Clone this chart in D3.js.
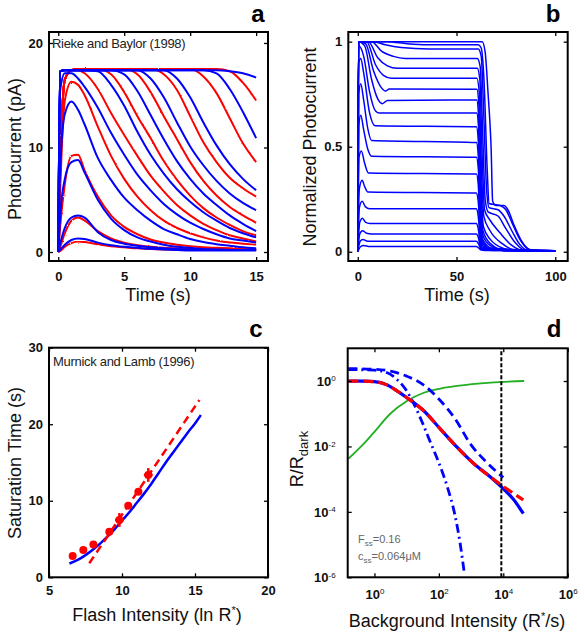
<!DOCTYPE html>
<html><head><meta charset="utf-8">
<script src="https://cdn.jsdelivr.net/npm/d3@7"></script>
<style>body{margin:0;background:#fff}svg{display:block}</style>
</head><body>
<script>
// ---------------- Panel a data ----------------
const timeA=[0,0.15,0.5,1,1.5,2,3,4,5,6,7,8,9,10,11,12,13,14,15];
const modelA=[
 [0,17.3,17.4,17.4,17.4,17.4,17.4,17.4,17.4,17.4,17.4,17.4,17.4,17.4,17.4,17.4,17.3,17.1,16.7],
 [0,17.3,17.4,17.4,17.4,17.4,17.4,17.4,17.4,17.4,17.4,17.4,17.4,17.4,17.4,17.1,15.6,13.4,10.9],
 [0,17.3,17.4,17.4,17.4,17.4,17.4,17.4,17.4,17.4,17.4,17.4,16.6,14.8,12.4,10.2,8.4,7.0,5.9],
 [0,17.3,17.4,17.4,17.4,17.4,17.4,17.4,17.4,17.4,16.6,14.8,12.4,10.1,8.3,6.8,5.6,4.7,4.0],
 [0,17.3,17.4,17.4,17.4,17.4,17.4,17.4,17.0,15.4,13.1,10.8,8.7,7.0,5.6,4.5,3.5,2.7,2.0],
 [0,17.3,17.4,17.4,17.4,17.4,17.3,16.0,14.0,11.5,9.3,7.5,6.0,4.8,3.8,3.0,2.3,1.8,1.4],
 [0,15.5,17.1,17.1,16.6,15.8,13.8,11.4,9.3,7.4,5.9,4.6,3.6,2.8,2.2,1.7,1.3,1.1,0.9],
 [0,8,13.2,14.4,13.6,12.2,9.0,6.9,5.2,4.0,3.0,2.2,1.7,1.25,0.95,0.75,0.6,0.45,0.35],
 [0,3.5,7.0,8.6,8.8,7.6,5.0,3.2,2.1,1.4,1.0,0.7,0.5,0.4,0.3,0.25,0.2,0.2,0.2],
 [0,0.8,2.3,3.3,3.5,3.3,1.9,1.15,0.8,0.6,0.45,0.35,0.3,0.25,0.2,0.2,0.2,0.2,0.2],
 [0,0.2,0.7,1.15,1.3,1.25,0.9,0.65,0.5,0.4,0.3,0.25,0.2,0.15,0.15,0.15,0.15,0.15,0.15]
];
const dataA=[
 [0,8,16.5,17.4,17.5,17.5,17.5,17.5,17.5,17.5,17.5,17.5,17.5,17.5,17.5,17.5,17.3,16.2,14.5],
 [0,8,16.5,17.4,17.5,17.5,17.5,17.5,17.5,17.5,17.5,17.5,17.5,17.5,16.8,15.2,12.8,10.4,8.6],
 [0,8,16.5,17.4,17.5,17.5,17.5,17.5,17.5,17.5,17.5,17.0,15.5,13.0,10.5,8.6,7.1,6.1,5.3],
 [0,8,16.5,17.4,17.5,17.5,17.5,17.5,17.5,17.0,15.3,13.0,10.8,8.6,6.8,5.4,4.3,3.5,2.8],
 [0,8,16.5,17.4,17.5,17.5,17.5,17.0,15.3,13.0,10.9,8.7,6.9,5.4,4.2,3.3,2.6,2.0,1.6],
 [0,8,16.5,17.4,17.4,17.1,15.6,13.3,11.2,9.2,7.3,5.8,4.5,3.5,2.7,2.1,1.6,1.3,1.0],
 [0,6,14.5,16.3,16.0,15.0,12.0,9.2,7.0,5.3,4.0,3.0,2.3,1.8,1.4,1.1,0.9,0.8,0.7],
 [0,2.5,6.5,9.2,9.3,7.8,5.3,3.5,2.4,1.7,1.2,0.9,0.7,0.55,0.45,0.4,0.35,0.3,0.3],
 [0,0.5,1.8,3.0,3.3,3.0,2.0,1.3,0.9,0.65,0.5,0.4,0.35,0.3,0.3,0.3,0.3,0.3,0.3],
 [0,0.1,0.5,0.85,1.0,0.95,0.75,0.55,0.45,0.35,0.3,0.25,0.2,0.2,0.2,0.2,0.2,0.2,0.2]
];
const ticksAx=[0,5,10,15], ticksAy=[0,10,20];

// ---------------- Panel b data ----------------
const normCurves=[
 [[0,0],[0.4,1],[60,1],[63,1],[64.5,0.95],[66,0.75],[67,0.6],[67.5,0.5],[68.3,0.24],[70,0.22],[74,0.22],[76,0.2],[79,0.13],[83,0.05],[87,0.01],[90,0.005],[100,0.005]],
 [[0,0],[0.4,1],[15,1],[25,0.99],[35,0.985],[61,0.985],[62.5,0.97],[64,0.8],[65.5,0.4],[66.5,0.23],[72,0.22],[75,0.2],[78,0.14],[82,0.06],[86,0.015],[90,0.005],[100,0.005]],
 [[0,0],[0.4,1],[8,1],[14,0.985],[22,0.972],[36,0.965],[61,0.965],[62.5,0.93],[64,0.6],[65.2,0.3],[66.5,0.21],[71,0.2],[74,0.17],[78,0.1],[82,0.035],[87,0.005],[100,0.005]],
 [[0,0],[0.4,1],[7,1],[12,0.955],[18,0.93],[24,0.92],[60.5,0.92],[62,0.88],[63.3,0.55],[64.5,0.25],[66,0.19],[71,0.17],[75,0.11],[80,0.04],[85,0.005],[100,0.005]],
 [[0,0],[0.4,1],[5.4,1],[10,0.925],[15,0.885],[20,0.873],[60.5,0.873],[61.8,0.82],[63,0.45],[64.2,0.2],[67,0.15],[72,0.09],[78,0.03],[84,0.005],[100,0.005]],
 [[0,0],[0.4,1],[4.5,1],[9,0.89],[13,0.84],[17,0.826],[60.3,0.826],[61.5,0.76],[62.6,0.4],[63.8,0.17],[67,0.1],[73,0.04],[80,0.008],[100,0.005]],
 [[0,0],[0.4,1],[4,0.99],[8,0.86],[12,0.78],[14,0.765],[16,0.775],[60.3,0.773],[61.3,0.7],[62.4,0.33],[63.6,0.12],[67,0.06],[74,0.015],[80,0.005],[100,0.005]],
 [[0,0],[0.4,1],[3.5,0.98],[7,0.82],[10,0.73],[12.5,0.705],[15,0.72],[60.2,0.722],[61.2,0.64],[62.2,0.3],[63.4,0.1],[67,0.04],[75,0.005],[100,0.005]],
 [[0,0],[0.4,0.98],[3,0.93],[6,0.76],[9,0.67],[11,0.66],[60.2,0.66],[61.1,0.6],[62.1,0.27],[63.3,0.08],[67,0.03],[74,0.005],[100,0.005]],
 [[0,0],[0.5,0.9],[1.5,0.92],[3,0.85],[6,0.66],[8.8,0.6],[60.1,0.595],[61,0.53],[62,0.23],[63.2,0.06],[68,0.015],[75,0.005],[100,0.005]],
 [[0,0],[0.5,0.75],[1.5,0.8],[3,0.72],[5,0.59],[7,0.53],[60.1,0.52],[61,0.46],[62,0.19],[63.2,0.05],[68,0.01],[100,0.005]],
 [[0,0],[0.5,0.6],[1.5,0.65],[3,0.58],[5,0.49],[7,0.455],[60.1,0.45],[61,0.4],[62,0.15],[63.2,0.04],[68,0.008],[100,0.005]],
 [[0,0],[0.6,0.45],[1.8,0.48],[3.5,0.42],[5.4,0.375],[60.1,0.37],[61,0.32],[62,0.12],[63.2,0.03],[68,0.006],[100,0.005]],
 [[0,0],[0.8,0.3],[2.2,0.34],[3.5,0.31],[5,0.285],[60,0.28],[61,0.24],[62,0.09],[63.2,0.02],[100,0.005]],
 [[0,0],[0.8,0.21],[2.2,0.24],[3.8,0.215],[6,0.205],[60,0.205],[61,0.17],[62,0.06],[63.2,0.015],[100,0.005]],
 [[0,0],[1,0.14],[2.4,0.16],[4,0.14],[6,0.135],[60,0.135],[61,0.11],[62,0.04],[63.2,0.01],[100,0.005]],
 [[0,0],[1,0.085],[2.4,0.1],[4.5,0.088],[7,0.085],[60,0.085],[61,0.07],[62,0.025],[63.5,0.008],[100,0.005]],
 [[0,0],[1.2,0.05],[2.6,0.058],[5,0.05],[60,0.05],[61,0.04],[62.2,0.015],[64,0.006],[100,0.005]],
 [[0,0],[1.5,0.025],[3,0.03],[6,0.025],[60,0.025],[61,0.02],[62.5,0.008],[100,0.005]]
];
const ticksBx=[0,50,100], ticksBy=[0,0.5,1];

// ---------------- Panel c data ----------------
const flashIntensity=[6.62,7.35,8.04,9.13,9.82,10.43,11.12,11.8];
const satTime=[2.78,3.57,4.3,5.96,7.49,9.36,11.19,13.37];
const satErrX=[0,0,0,0,0.3,0,0,0.3];
const satErrY=[0,0,0,0,0.9,0,0,0.9];
const fitLineX=[7.76,15.3], fitLineY=[1.83,23.17];
const modelSatX=[6.4,7,7.5,8,8.5,9,9.5,10,10.5,11,11.5,12,12.5,13,13.5,14,14.5,15,15.4];
const modelSatY=[1.8,2.3,2.9,3.6,4.4,5.3,6.3,7.4,8.5,9.7,10.9,12.2,13.6,15.0,16.3,17.6,18.9,20.1,21.2];
const ticksCx=[5,10,15,20], ticksCy=[0,10,20,30];

// ---------------- Panel d data ----------------
const greenX=[0.155,0.575,1,3.09,10.2,33.9,112,372,4070,44700];
const greenY=[0.0042,0.0151,0.028,0.1,0.245,0.437,0.589,0.708,0.891,1.0];
const redX=[0.155,0.4,1,2.45,5,10.2,33.9,112,372,1230,4070,10700,41700];
const redY=[1.0,0.99,0.955,0.76,0.5,0.309,0.123,0.0339,0.00933,0.00295,0.00115,0.000575,0.000234];
const blueX=[0.155,0.4,1,2.45,5,10.2,33.9,112,372,1230,4070,10700,20000,41700];
const blueY=[1.0,0.99,0.955,0.76,0.5,0.309,0.123,0.0339,0.00933,0.00295,0.00115,0.00048,0.00025,0.0000891];
const dashedX=[0.155,1,3.16,10,31.6,100,316,1000,3160,10000];
const dashedY=[2.4,2.29,2.0,1.41,0.794,0.282,0.0708,0.0112,0.00316,0.00112];
const dashDotX=[0.155,1,2.51,5.01,10,17.8,31.6,56.2,100,178,316,447,603];
const dashDotY=[2.24,2.14,1.78,1.12,0.501,0.178,0.0501,0.0126,0.00316,0.000631,0.0000794,0.0000126,0.00000158];
const darkLimit=8700;
const ticksDx=[1,100,1e4,1e6], ticksDy=[1e-6,1e-4,1e-2,1];

// ---------------- drawing ----------------
const FONT='"Liberation Sans", Arial, Helvetica, sans-serif';
const BLUE='#0000ff', RED='#ff0000', GREEN='#22b022';
const svg=d3.select('body').append('svg').attr('width',585).attr('height',639).style('background','#fff');
const defs=svg.append('defs');
const f=defs.append('filter').attr('id','rough').attr('x','-5%').attr('y','-5%').attr('width','110%').attr('height','110%');
f.append('feTurbulence').attr('type','fractalNoise').attr('baseFrequency','0.6').attr('numOctaves',1).attr('seed',4).attr('result','n');
f.append('feDisplacementMap').attr('in','SourceGraphic').attr('in2','n').attr('scale',2.2);

function drawAxes(sx,sy,xt,yt,o){
  const [x0,x1]=sx.range(), [y0,y1]=sy.range();
  const g=svg.append('g');
  const lab=g.append('g');
  lab.append('g').attr('transform',`translate(0,${y0})`).call(d3.axisBottom(sx).tickValues(xt).tickFormat(o.xf).tickSizeInner(-4).tickSizeOuter(0).tickPadding(o.px));
  g.append('g').attr('transform',`translate(0,${y1})`).call(d3.axisTop(sx).tickValues(xt).tickFormat(()=>'').tickSizeInner(-4).tickSizeOuter(0));
  lab.append('g').attr('transform',`translate(${x0},0)`).call(d3.axisLeft(sy).tickValues(yt).tickFormat(o.yf).tickSizeInner(-4).tickSizeOuter(0).tickPadding(o.py));
  g.append('g').attr('transform',`translate(${x1},0)`).call(d3.axisRight(sy).tickValues(yt).tickFormat(()=>'').tickSizeInner(-4).tickSizeOuter(0));
  g.selectAll('.domain').remove();
  g.selectAll('.tick line').attr('stroke','#000').attr('stroke-width',1.3);
  g.selectAll('text').attr('font-family',FONT).attr('font-size',13).attr('font-weight','bold').attr('fill','#111');
  g.append('rect').attr('x',x0).attr('y',y1).attr('width',x1-x0).attr('height',y0-y1).attr('fill','none').attr('stroke','#000').attr('stroke-width',2);
  return lab;
}
function label(txt,x,y,rot,size){
  const t=svg.append('text').attr('font-family',FONT).attr('font-size',size||18).attr('fill','#111').attr('text-anchor','middle')
    .attr('transform',`translate(${x},${y})${rot?' rotate(-90)':''}`);
  if(typeof txt==='string') t.text(txt); else txt(t);
  return t;
}
function letter(ch,x,y){svg.append('text').attr('x',x).attr('y',y).attr('font-family',FONT).attr('font-size',24).attr('font-weight','bold').attr('text-anchor','middle').text(ch);}

// Panel a
const xa=d3.scaleLinear().domain([-0.7,15.9]).range([49,268]);
const ya=d3.scaleLinear().domain([-0.86,21.05]).range([261,32]);
const lineA=d3.line().x((d,i)=>xa(timeA[i])).y(d=>ya(d)).curve(d3.curveMonotoneX);
const ga=svg.append('g');
ga.selectAll('path.r').data(dataA).join('path').attr('d',lineA).attr('fill','none').attr('stroke',RED).attr('stroke-width',2).attr('filter','url(#rough)');
ga.selectAll('path.b').data(modelA).join('path').attr('d',lineA).attr('fill','none').attr('stroke',BLUE).attr('stroke-width',2);
drawAxes(xa,ya,ticksAx,ticksAy,{xf:d3.format('d'),yf:d3.format('d'),px:11,py:6});
svg.append('text').attr('x',52).attr('y',48).attr('font-family',FONT).attr('font-size',13).attr('fill','#222').attr('letter-spacing','-0.3').text('Rieke and Baylor (1998)');
label('Photocurrent (pA)',21,149,true);
label('Time (s)',158,301);
letter('a',258,22);

// Panel b
const xb=d3.scaleLinear().domain([-4.8,106.3]).range([348.3,567.7]);
const yb=d3.scaleLinear().domain([-0.044,1.046]).range([261,32]);
const lineB=d3.line().x(d=>xb(d[0])).y(d=>yb(d[1])).curve(d3.curveMonotoneX);
svg.append('g').selectAll('path').data(normCurves).join('path').attr('d',lineB).attr('fill','none').attr('stroke',BLUE).attr('stroke-width',1.5);
drawAxes(xb,yb,ticksBx,ticksBy,{xf:d3.format('d'),yf:d=>d===0.5?'0.5':d3.format('d')(d),px:11,py:6});
label('Normalized Photocurrent',316,147,true);
label('Time (s)',457,301);
letter('b',553,22);

// Panel c
const xc=d3.scaleLinear().domain([5,20]).range([49,268]);
const yc=d3.scaleLinear().domain([0,30]).range([577.3,347.7]);
const gc=svg.append('g');
gc.append('path').datum(modelSatX.map((x,i)=>[x,modelSatY[i]]))
  .attr('d',d3.line().x(d=>xc(d[0])).y(d=>yc(d[1])).curve(d3.curveMonotoneX)).attr('fill','none').attr('stroke',BLUE).attr('stroke-width',2.5);
gc.append('path').datum(fitLineX.map((x,i)=>[x,fitLineY[i]]))
  .attr('d',d3.line().x(d=>xc(d[0])).y(d=>yc(d[1]))).attr('fill','none').attr('stroke',RED).attr('stroke-width',2.5).attr('stroke-dasharray','8,5');
flashIntensity.forEach((x,i)=>{
  if(satErrY[i]>0){
    gc.append('line').attr('x1',xc(x)).attr('x2',xc(x)).attr('y1',yc(satTime[i]-satErrY[i])).attr('y2',yc(satTime[i]+satErrY[i])).attr('stroke',RED).attr('stroke-width',2.5);
    gc.append('line').attr('x1',xc(x-satErrX[i])).attr('x2',xc(x+satErrX[i])).attr('y1',yc(satTime[i])).attr('y2',yc(satTime[i])).attr('stroke',RED).attr('stroke-width',2.5);
  }
});
gc.selectAll('circle').data(flashIntensity).join('circle').attr('cx',d=>xc(d)).attr('cy',(d,i)=>yc(satTime[i])).attr('r',4).attr('fill',RED);
drawAxes(xc,yc,ticksCx,ticksCy,{xf:d3.format('d'),yf:d3.format('d'),px:8,py:6});
svg.append('text').attr('x',53).attr('y',366).attr('font-family',FONT).attr('font-size',13).attr('fill','#222').attr('letter-spacing','-0.3').text('Murnick and Lamb (1996)');
label('Saturation Time (s)',21,463,true);
label(t=>{t.append('tspan').text('Flash Intensity (ln R');t.append('tspan').attr('dy',-7).attr('font-size',11).text('*');t.append('tspan').attr('dy',7).text(')');},157,621);
letter('c',256,337);

// Panel d
const xd=d3.scaleLog().domain([Math.pow(10,-0.83),1e6]).range([347.7,567.7]);
const yd=d3.scaleLog().domain([1e-6,10]).range([577.3,348.3]);
const lineD=(X,Y)=>d3.line().x(d=>xd(d[0])).y(d=>yd(d[1])).curve(d3.curveMonotoneX)(X.map((x,i)=>[x,Y[i]]));
const gd=svg.append('g');
gd.append('path').attr('d',lineD(greenX,greenY)).attr('fill','none').attr('stroke',GREEN).attr('stroke-width',1.8);
gd.append('path').attr('d',lineD(dashDotX,dashDotY)).attr('fill','none').attr('stroke',BLUE).attr('stroke-width',2.8).attr('stroke-dasharray','9,4,2,4');
gd.append('path').attr('d',lineD(dashedX,dashedY)).attr('fill','none').attr('stroke',BLUE).attr('stroke-width',2.8).attr('stroke-dasharray','9,5');
gd.append('path').attr('d',lineD(blueX,blueY)).attr('fill','none').attr('stroke',BLUE).attr('stroke-width',3.2);
gd.append('path').attr('d',lineD(redX,redY)).attr('fill','none').attr('stroke',RED).attr('stroke-width',3.2).attr('stroke-dasharray','10,5');
gd.append('line').attr('x1',xd(darkLimit)).attr('x2',xd(darkLimit)).attr('y1',yd(1e-6)).attr('y2',yd(10)).attr('stroke','#000').attr('stroke-width',2).attr('stroke-dasharray','4,2');
const labD=drawAxes(xd,yd,ticksDx,ticksDy,{xf:d=>String(d),yf:d=>String(d),px:12,py:12});
labD.selectAll('.tick text').each(function(d){
  const t=d3.select(this); t.text(null);
  const e=Math.round(Math.log10(d));
  t.append('tspan').text('10');
  t.append('tspan').attr('dy','-0.55em').attr('font-size',8).attr('font-weight','normal').text(String(e));
});
const st=svg.append('text').attr('x',358).attr('y',543).attr('font-family',FONT).attr('font-size',11).attr('fill','#666');
st.append('tspan').text('F');st.append('tspan').attr('dy',3).attr('font-size',8).text('ss');st.append('tspan').attr('dy',-3).text('=0.16');
const st2=svg.append('text').attr('x',358).attr('y',560).attr('font-family',FONT).attr('font-size',11).attr('fill','#666');
st2.append('tspan').text('c');st2.append('tspan').attr('dy',3).attr('font-size',8).text('ss');st2.append('tspan').attr('dy',-3).text('=0.064\u03bcM');
label(t=>{t.append('tspan').text('R/R');t.append('tspan').attr('dy',5).attr('font-size',13).text('dark');},303,459,true);
label(t=>{t.append('tspan').text('Background Intensity (R');t.append('tspan').attr('dy',-7).attr('font-size',11).text('*');t.append('tspan').attr('dy',7).text('/s)');},457,627);
letter('d',554,337);
</script>
</body></html>
